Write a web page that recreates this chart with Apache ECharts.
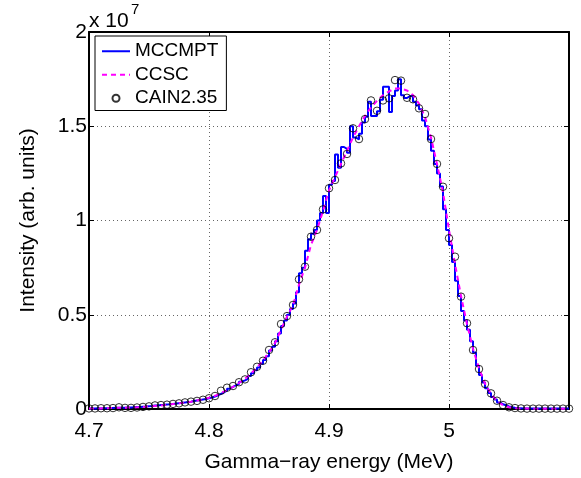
<!DOCTYPE html>
<html>
<head>
<meta charset="utf-8">
<script src="https://cdn.jsdelivr.net/npm/echarts@6/dist/echarts.min.js"></script>
<style>
  html, body { margin: 0; padding: 0; background: #fff; }
  #chart { width: 581px; height: 478px; }
</style>
</head>
<body>
<div id="chart"></div>
<script>
// intensities are in units of 10^7 (see the "x 10^7" label)
var xTicks = [4.7, 4.8, 4.9, 5.0, 5.1];
var yTicks = [0, 0.5, 1, 1.5, 2];

// MCCMPT histogram: bins of 0.0025 MeV starting at 4.7
var mcStart = 4.7, mcBin = 0.0025;
var mccmpt = [
  0.003, 0.003, 0.004, 0.003, 0.004, 0.004, 0.005, 0.005, 0.006, 0.006,
  0.007, 0.007, 0.008, 0.008, 0.009, 0.010, 0.011, 0.012, 0.013, 0.015,
  0.016, 0.018, 0.019, 0.021, 0.022, 0.024, 0.025, 0.027, 0.029, 0.031,
  0.033, 0.035, 0.037, 0.039, 0.042, 0.045, 0.047, 0.050, 0.053, 0.057,
  0.061, 0.066, 0.072, 0.080, 0.088, 0.097, 0.108, 0.117, 0.125, 0.133,
  0.145, 0.152, 0.160, 0.175, 0.190, 0.205, 0.220, 0.240, 0.260, 0.280,
  0.310, 0.330, 0.360, 0.400, 0.440, 0.470, 0.500, 0.530, 0.560, 0.620,
  0.720, 0.750, 0.840, 0.900, 0.930, 0.950, 1.000, 1.040, 1.130, 1.040,
  1.190, 1.210, 1.350, 1.280, 1.390, 1.380, 1.360, 1.500, 1.440, 1.430,
  1.460, 1.520, 1.550, 1.630, 1.555, 1.555, 1.580, 1.640, 1.710, 1.710,
  1.575, 1.660, 1.690, 1.750, 1.665, 1.650, 1.660, 1.660, 1.630, 1.610,
  1.590, 1.530, 1.500, 1.430, 1.370, 1.300, 1.250, 1.180, 1.060, 0.950,
  0.870, 0.780, 0.680, 0.600, 0.520, 0.470, 0.420, 0.360, 0.300, 0.230,
  0.180, 0.140, 0.110, 0.085, 0.064, 0.050, 0.035, 0.025, 0.020, 0.014,
  0.010, 0.007, 0.005, 0.004, 0.003, 0.003, 0.002, 0.002, 0.002, 0.002,
  0.002, 0.002, 0.002, 0.002, 0.002, 0.002, 0.002, 0.002, 0.002, 0.002
];

// CCSC and CAIN2.35 sampled every 0.005 MeV from 4.7 to 5.1
var ptStart = 4.7, ptStep = 0.005;
var ccsc = [
  0.002, 0.003, 0.003, 0.004, 0.005, 0.006, 0.007, 0.008, 0.009, 0.011,
  0.013, 0.016, 0.019, 0.022, 0.026, 0.030, 0.034, 0.039, 0.045, 0.052,
  0.060, 0.070, 0.085, 0.100, 0.118, 0.138, 0.160, 0.188, 0.220, 0.258,
  0.300, 0.350, 0.420, 0.490, 0.550, 0.660, 0.750, 0.870, 0.950, 1.050,
  1.160, 1.230, 1.300, 1.370, 1.440, 1.500, 1.555, 1.600, 1.635, 1.665,
  1.685, 1.700, 1.700, 1.690, 1.665, 1.620, 1.550, 1.440, 1.300, 1.150,
  0.950, 0.770, 0.600, 0.450, 0.320, 0.215, 0.135, 0.080, 0.042, 0.020,
  0.009, 0.004, 0.002, 0.002, 0.001, 0.001, 0.001, 0.001, 0.001, 0.001, 0.001
];
var cain = [
  0.003, 0.003, 0.004, 0.004, 0.005, 0.009, 0.006, 0.006, 0.008, 0.011,
  0.014, 0.019, 0.021, 0.023, 0.027, 0.030, 0.035, 0.039, 0.043, 0.049,
  0.057, 0.069, 0.097, 0.113, 0.122, 0.142, 0.157, 0.195, 0.224, 0.256,
  0.313, 0.354, 0.451, 0.493, 0.552, 0.688, 0.755, 0.914, 0.950, 1.059,
  1.171, 1.215, 1.303, 1.353, 1.489, 1.432, 1.538, 1.637, 1.582, 1.637,
  1.648, 1.745, 1.742, 1.651, 1.643, 1.595, 1.565, 1.432, 1.300, 1.179,
  0.906, 0.808, 0.596, 0.455, 0.313, 0.212, 0.133, 0.083, 0.044, 0.021,
  0.009, 0.005, 0.003, 0.002, 0.002, 0.002, 0.002, 0.002, 0.002, 0.002, 0.002
];

var FONT = 'Liberation Sans, Arial, Helvetica, sans-serif';

function pairs(start, step, vals) {
  return vals.map(function (v, i) { return [+(start + i * step).toFixed(4), v]; });
}
var mcData = pairs(mcStart, mcBin, mccmpt);
mcData.push([xTicks[xTicks.length - 1], mccmpt[mccmpt.length - 1]]);

var dotted = { show: true, lineStyle: { color: '#666', type: [1, 3], width: 1 } };
var xBase = {
  type: 'value', min: xTicks[0], max: xTicks[xTicks.length - 1], interval: 0.1,
  axisLine: { show: true, onZero: false, lineStyle: { color: '#000', width: 2 } },
  axisTick: { show: true, inside: true, length: 5, lineStyle: { color: '#000', width: 1 } }
};
var yBase = {
  type: 'value', min: yTicks[0], max: yTicks[yTicks.length - 1], interval: 0.5,
  axisLine: { show: true, onZero: false, lineStyle: { color: '#000', width: 2 } },
  axisTick: { show: true, inside: true, length: 5, lineStyle: { color: '#000', width: 1 } }
};
// hides the marker ECharts puts in the middle of a line legend icon
var noMarker = { color: 'rgba(0,0,0,0)', borderWidth: 0 };

var chart = echarts.init(document.getElementById('chart'), null, { renderer: 'canvas' });
chart.setOption({
  backgroundColor: '#fff',
  animation: false,
  textStyle: { fontFamily: FONT },
  grid: { left: 89, right: 12, top: 32, bottom: 69, containLabel: false },
  graphic: [
    { type: 'text', left: 89, top: 11, style: { text: 'x 10', font: '21px ' + FONT, fill: '#000' } },
    { type: 'text', left: 131, top: 2, style: { text: '7', font: '15px ' + FONT, fill: '#000' } }
  ],
  legend: {
    orient: 'vertical', left: 95, top: 36,
    itemWidth: 28, itemHeight: 7, itemGap: 0,
    padding: [3.5, 8, 0.5, 6],
    backgroundColor: '#fff', borderColor: '#000', borderWidth: 1, borderRadius: 0,
    textStyle: { fontSize: 19, color: '#000', fontFamily: FONT, lineHeight: 23.5 },
    data: [
      { name: 'MCCMPT', itemStyle: noMarker },
      { name: 'CCSC', itemStyle: noMarker },
      { name: 'CAIN2.35', icon: 'circle' }
    ]
  },
  xAxis: [
    Object.assign({}, xBase, {
      position: 'bottom',
      name: 'Gamma\u2212ray energy (MeV)', nameLocation: 'middle', nameGap: 43,
      nameTextStyle: { fontSize: 21, color: '#000', fontFamily: FONT },
      axisLabel: {
        fontSize: 21, color: '#000', margin: 12, showMaxLabel: false,
        formatter: function (v) { return v > 5.05 ? '' : String(+v.toFixed(1)); }
      },
      splitLine: dotted
    }),
    Object.assign({}, xBase, { position: 'top', axisLabel: { show: false }, splitLine: { show: false } })
  ],
  yAxis: [
    Object.assign({}, yBase, {
      position: 'left',
      name: 'Intensity (arb. units)', nameLocation: 'middle', nameGap: 50,
      nameTextStyle: { fontSize: 21, color: '#000', fontFamily: FONT },
      axisLabel: {
        fontSize: 21, color: '#000', margin: 2,
        formatter: function (v) { return String(v); }
      },
      splitLine: dotted
    }),
    Object.assign({}, yBase, { position: 'right', axisLabel: { show: false }, splitLine: { show: false } })
  ],
  series: [
    {
      name: 'MCCMPT', type: 'line', step: 'end', xAxisIndex: 0, yAxisIndex: 0,
      data: mcData, symbol: 'none', showSymbol: false,
      lineStyle: { color: '#0000ff', width: 2 }, itemStyle: { color: '#0000ff' }
    },
    {
      name: 'CCSC', type: 'line', xAxisIndex: 0, yAxisIndex: 0,
      data: pairs(ptStart, ptStep, ccsc), symbol: 'none', showSymbol: false,
      lineStyle: { color: '#ff00ff', width: 2, type: [5, 4] }, itemStyle: { color: '#ff00ff' }
    },
    {
      name: 'CAIN2.35', type: 'scatter', xAxisIndex: 0, yAxisIndex: 0,
      data: pairs(ptStart, ptStep, cain), symbol: 'circle', symbolSize: 7.5,
      itemStyle: { color: 'rgba(255,255,255,0)', borderColor: '#000', borderWidth: 1 },
      z: 5
    }
  ]
});
</script>
</body>
</html>
